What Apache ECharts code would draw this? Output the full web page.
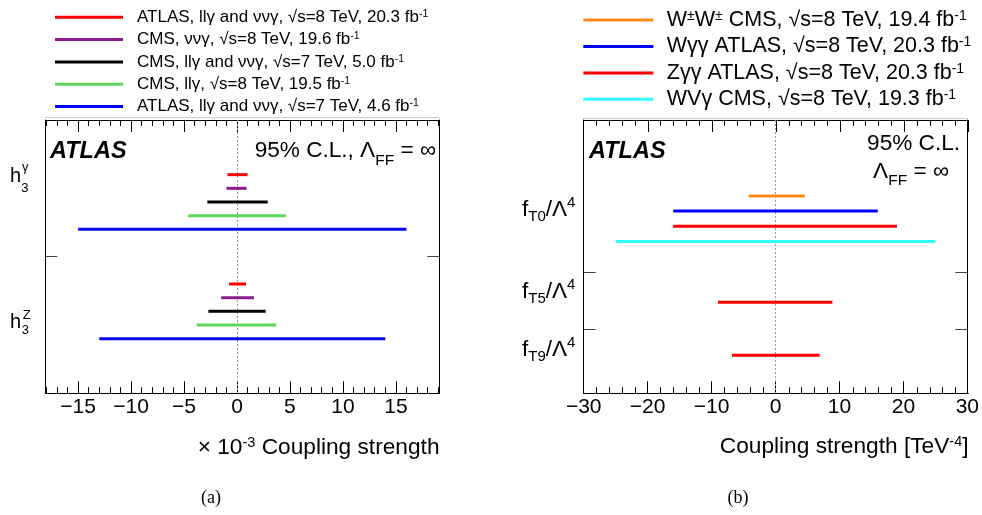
<!DOCTYPE html>
<html>
<head>
<meta charset="utf-8">
<script src="https://cdn.jsdelivr.net/npm/echarts@6.0.0/dist/echarts.min.js"></script>
<style>
  html, body { margin: 0; padding: 0; background: #fff; }
  #main { width: 982px; height: 515px; }
</style>
</head>
<body>
<div id="main"></div>
<script>
const FONT = '"Liberation Sans", Arial, Helvetica, sans-serif';

// (a) h3 limits, in units of 10^-3
const leftNames = [
  'ATLAS, llγ and ννγ, √s=8 TeV, 20.3 fb^{-1}',
  'CMS, ννγ, √s=8 TeV, 19.6 fb^{-1}',
  'CMS, llγ and ννγ, √s=7 TeV, 5.0 fb^{-1}',
  'CMS, llγ, √s=8 TeV, 19.5 fb^{-1}',
  'ATLAS, llγ and ννγ, √s=7 TeV, 4.6 fb^{-1}'
];
const leftColors = ['#ff0000', '#8c1c8c', '#000000', '#5cd65c', '#0000ff'];
const h3gammaLow = [-0.9, -1.0, -2.8, -4.6, -15];
const h3gammaHigh = [1.0, 0.9, 2.9, 4.6, 16];
const h3ZLow = [-0.75, -1.5, -2.7, -3.8, -13];
const h3ZHigh = [0.85, 1.6, 2.7, 3.7, 14];
const leftTicks = [-15, -10, -5, 0, 5, 10, 15];

// (b) quartic couplings, TeV^-4
const rightNames = [
  'W^{±}W^{±} CMS, √s=8 TeV, 19.4 fb^{-1}',
  'Wγγ ATLAS, √s=8 TeV, 20.3 fb^{-1}',
  'Zγγ ATLAS, √s=8 TeV, 20.3 fb^{-1}',
  'WVγ CMS, √s=8 TeV, 19.3 fb^{-1}'
];
const rightColors = ['#ff8c1a', '#0000ff', '#ff0000', '#33ffff'];
const fT0Low = [-4.2, -16, -16, -25];
const fT0High = [4.6, 16, 19, 25];
const fT5Zgg = [-9.0, 8.9];   // only Zγγ ATLAS
const fT9Zgg = [-6.8, 6.9];
const rightTicks = [-30, -20, -10, 0, 10, 20, 30];

// layout: row slots on the hidden vertical scale
const leftRowY = [[4, 5, 6, 7, 8], [12, 13, 14, 15, 16]];
const rightRowY = { fT0: [5, 6, 7, 8], fT5: 12, fT9: 15.5 };
const PLOT_TOP = 120;
const PLOT_H = 273.3;
const leftBox = { left: 45.3, width: 394 };
const rightBox = { left: 583.7, width: 384.6 };

var chartInstance = echarts.init(document.getElementById('main'));

function rect(box, top, height) {
  return { left: box.left, width: box.width, top: top, height: height };
}

// '^{..}' -> superscript, '_{..}' -> subscript
function toRich(str) {
  return '{m|' + str.replace(/\^\{(.*?)\}/g, '}{p|$1}{m|').replace(/_\{(.*?)\}/g, '}{s|$1}{m|') + '}';
}
function richSet(size, lh, supSize, supLh, subSize, subLh) {
  return {
    m: { fontSize: size, fontFamily: FONT, color: '#000', lineHeight: lh },
    p: { fontSize: supSize, fontFamily: FONT, color: '#000', lineHeight: supLh, verticalAlign: 'top' },
    s: { fontSize: subSize || supSize, fontFamily: FONT, color: '#000', lineHeight: subLh || supLh, verticalAlign: 'bottom' }
  };
}

function renderBar(params, api) {
  const start = api.coord([api.value(0), api.value(2)]);
  const end = api.coord([api.value(1), api.value(2)]);
  return {
    type: 'line',
    shape: { x1: start[0], y1: start[1], x2: end[0], y2: end[1] },
    style: { stroke: api.visual('color'), lineWidth: 3 }
  };
}

const zeroLine = {
  silent: true,
  symbol: ['none', 'none'],
  z: 1,
  label: { show: false },
  lineStyle: { type: [2, 2], color: '#999', width: 1 },
  data: [{ xAxis: 0 }]
};

function minorTicks(min, max, step, majorStep) {
  const out = [];
  for (let v = min; v <= max; v += step) {
    if (v % majorStep !== 0) out.push(v);
  }
  return out;
}

function fmtTick(v) {
  return v < 0 ? '\u2212' + Math.abs(v) : String(v);
}

// bottom axis (ticks, maybe labels) + top axis (frame line only)
function xPair(grid, min, max, ticks, len, withLabels) {
  return ['bottom', 'top'].map(pos => ({
    type: 'value', gridIndex: grid, position: pos, min: min, max: max,
    axisLine: { show: true, onZero: false, lineStyle: { color: '#000', width: 1 } },
    axisTick: { show: pos === 'bottom', inside: true, length: len, customValues: ticks, lineStyle: { color: '#000', width: 1 } },
    axisLabel: (withLabels && pos === 'bottom')
      ? { show: true, customValues: ticks, formatter: fmtTick, fontSize: 21, fontFamily: FONT, color: '#000', margin: 3 }
      : { show: false },
    splitLine: { show: false }
  }));
}

// the mirrored ticks along the top edge: a thin strip grid whose bottom axis
// sits one tick length below the frame, ticks pointing up to the frame
function stripAxis(grid, min, max, ticks, len) {
  return {
    type: 'value', gridIndex: grid, position: 'bottom', min: min, max: max,
    axisLine: { show: false, onZero: false },
    axisTick: { show: true, inside: true, length: len, customValues: ticks, lineStyle: { color: '#000', width: 1 } },
    axisLabel: { show: false },
    splitLine: { show: false }
  };
}

function yAxes(grid, max, seps) {
  return ['left', 'right'].map(pos => ({
    type: 'value', gridIndex: grid, position: pos, min: 0, max: max, inverse: true,
    axisLine: { show: true, onZero: false, lineStyle: { color: '#000', width: 1 } },
    axisTick: { show: true, inside: true, length: 12, customValues: seps, lineStyle: { color: '#444' } },
    axisLabel: { show: false },
    splitLine: { show: false }
  }));
}

function hiddenY(grid) {
  return { type: 'value', gridIndex: grid, show: false, min: 0, max: 1 };
}

const leftSeries = leftNames.map((name, i) => ({
  name: name,
  type: 'custom',
  xAxisIndex: 0,
  yAxisIndex: 0,
  silent: true,
  z: 3,
  itemStyle: { color: leftColors[i] },
  encode: { x: [0, 1], y: 2 },
  renderItem: renderBar,
  data: [
    [h3gammaLow[i], h3gammaHigh[i], leftRowY[0][i]],
    [h3ZLow[i], h3ZHigh[i], leftRowY[1][i]]
  ]
}));
leftSeries[0].markLine = zeroLine;

const rightSeries = rightNames.map((name, i) => {
  const data = [[fT0Low[i], fT0High[i], rightRowY.fT0[i]]];
  if (i === 2) {
    data.push([fT5Zgg[0], fT5Zgg[1], rightRowY.fT5]);
    data.push([fT9Zgg[0], fT9Zgg[1], rightRowY.fT9]);
  }
  return {
    name: name,
    type: 'custom',
    xAxisIndex: 2,
    yAxisIndex: 2,
    silent: true,
    z: 3,
    itemStyle: { color: rightColors[i] },
    encode: { x: [0, 1], y: 2 },
    renderItem: renderBar,
    data: data
  };
});
rightSeries[0].markLine = zeroLine;

const leftMinor = minorTicks(-18, 19, 1, 5);
const rightMinor = minorTicks(-28, 28, 2, 10);

function txt(text, x, y, align, extra) {
  return {
    type: 'text', x: x, y: y, silent: true,
    style: Object.assign({ text: text, fill: '#000', textAlign: align || 'left', textVerticalAlign: 'middle' }, extra)
  };
}

const bigRich = richSet(22.6, 35, 14, 14, 15.5, 15);
const fRich = richSet(22.5, 29, 15, 14, 15, 13);
const titleRich = richSet(22.7, 26, 14.5, 14);
const graphics = [
  { type: 'line', silent: true, shape: { x1: 45, y1: 117.5, x2: 440, y2: 117.5 }, style: { stroke: '#cccccc', lineWidth: 1 } },
  { type: 'line', silent: true, shape: { x1: 583, y1: 118.5, x2: 968, y2: 118.5 }, style: { stroke: '#cccccc', lineWidth: 1 } },
  // panel labels
  txt('ATLAS', 50, 151.5, 'left', { font: 'italic bold 23.5px ' + FONT }),
  txt('ATLAS', 589, 151.5, 'left', { font: 'italic bold 23.5px ' + FONT }),
  txt(toRich('95% C.L., Λ_{FF} = ∞'), 436, 151, 'right', { rich: bigRich }),
  txt('95% C.L.', 960, 144, 'right', { font: '22.6px ' + FONT }),
  txt(toRich('Λ_{FF} = ∞'), 949, 171.5, 'right', { rich: bigRich }),
  // h3 labels
  txt('h', 10, 176.5, 'left', { font: '20px ' + FONT }),
  txt('γ', 22, 167.5, 'left', { font: '13px ' + FONT }),
  txt('3', 21.3, 188, 'left', { font: '13px ' + FONT }),
  txt('h', 10, 322.7, 'left', { font: '20px ' + FONT }),
  txt('Z', 22.7, 315.7, 'left', { font: '13px ' + FONT }),
  txt('3', 21.7, 330.5, 'left', { font: '13px ' + FONT }),
  // f_T labels
  txt(toRich('f_{T0}/Λ^{4}'), 522, 210, 'left', { rich: fRich }),
  txt(toRich('f_{T5}/Λ^{4}'), 522, 291.5, 'left', { rich: fRich }),
  txt(toRich('f_{T9}/Λ^{4}'), 522, 350, 'left', { rich: fRich }),
  // axis titles
  txt(toRich('× 10^{-3} Coupling strength'), 439.5, 448, 'right', { rich: titleRich }),
  txt(toRich('Coupling strength [TeV^{-4}]'), 968.5, 447, 'right', { rich: titleRich }),
  // captions
  txt('(a)', 211, 498, 'center', { font: '18px "Liberation Serif", "Times New Roman", serif' }),
  txt('(b)', 738, 498, 'center', { font: '18px "Liberation Serif", "Times New Roman", serif' })
];

const option = {
  animation: false,
  backgroundColor: '#fff',
  // 0/1 panels, 2/3 twins for bottom minor ticks, 4-7 thin strips for the top ticks
  grid: [
    rect(leftBox, PLOT_TOP, PLOT_H), rect(rightBox, PLOT_TOP, PLOT_H),
    rect(leftBox, PLOT_TOP, PLOT_H), rect(rightBox, PLOT_TOP, PLOT_H),
    rect(leftBox, PLOT_TOP, 12), rect(leftBox, PLOT_TOP, 6),
    rect(rightBox, PLOT_TOP, 12), rect(rightBox, PLOT_TOP, 6)
  ],
  xAxis: [].concat(
    xPair(0, -18.1, 19.1, leftTicks, 12, true),
    xPair(1, -30, 30, rightTicks, 12, true),
    xPair(2, -18.1, 19.1, leftMinor, 6, false),
    xPair(3, -30, 30, rightMinor, 6, false),
    [
      stripAxis(4, -18.1, 19.1, leftTicks, 12),
      stripAxis(5, -18.1, 19.1, leftMinor, 6),
      stripAxis(6, -30, 30, rightTicks, 12),
      stripAxis(7, -30, 30, rightMinor, 6)
    ]
  ),
  yAxis: [].concat(
    yAxes(0, 20, [10]), yAxes(1, 18, [10, 13.75]),
    [hiddenY(2), hiddenY(3), hiddenY(4), hiddenY(5), hiddenY(6), hiddenY(7)]
  ),
  legend: [
    {
      data: leftNames, orient: 'vertical', left: 55, top: 8.8, padding: 0, selectedMode: false,
      icon: 'rect', itemWidth: 68, itemHeight: 3, itemGap: 5.3,
      formatter: n => toRich(n),
      textStyle: { padding: [0, 0, 0, 9], rich: richSet(17, 17, 10.5, 12) }
    },
    {
      data: rightNames, orient: 'vertical', left: 583.3, top: 9.1, padding: 0, selectedMode: false,
      icon: 'rect', itemWidth: 70, itemHeight: 3, itemGap: 4.4,
      formatter: n => toRich(n),
      textStyle: { padding: [0, 0, 0, 8.5], rich: richSet(21.5, 22, 14, 14) }
    }
  ],
  graphic: graphics,
  series: leftSeries.concat(rightSeries)
};
chartInstance.setOption(option);
</script>
</body>
</html>
